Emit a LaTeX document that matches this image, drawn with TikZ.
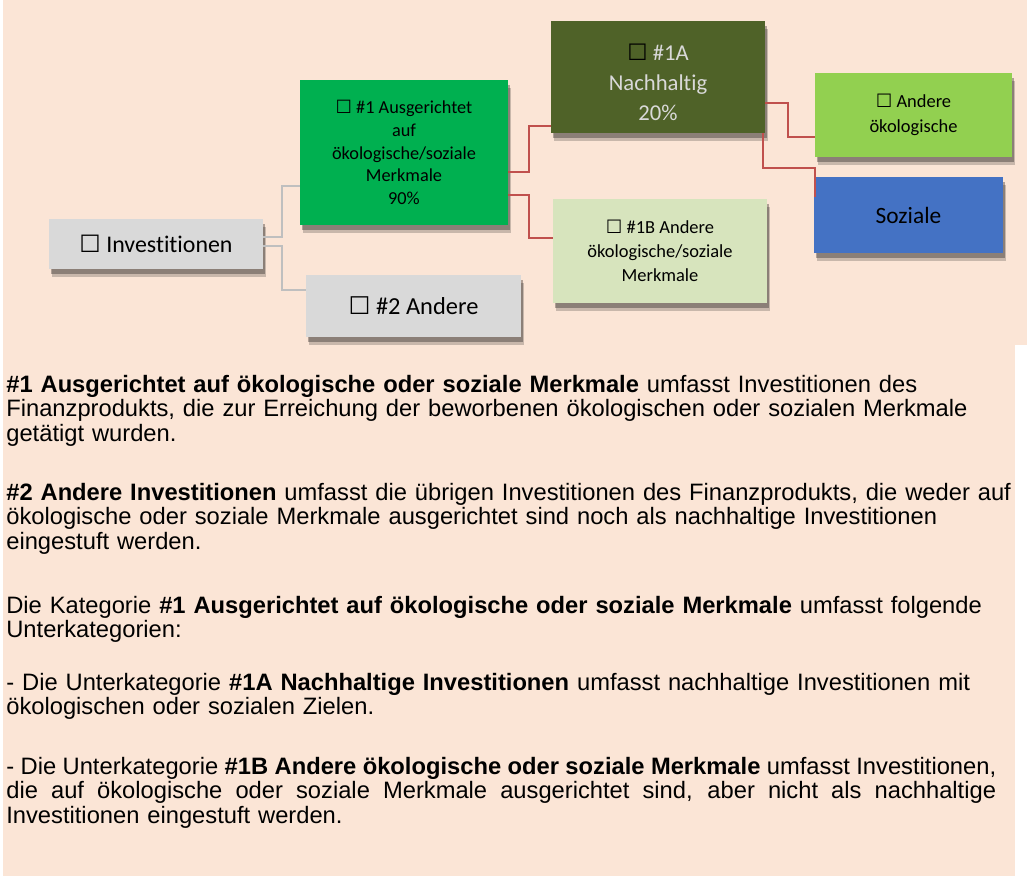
\documentclass[tikz,border=0pt]{standalone}
\usepackage{fontspec}
\setmainfont{Liberation Sans}
\newfontfamily\boxfont[Ligatures=NoCommon]{Carlito}
\newfontfamily\glyphfont{DejaVu Sans}
\usetikzlibrary{calc,shadows}

\definecolor{peach}{HTML}{FBE5D6}
\definecolor{boxgrey}{HTML}{D9D9D9}
\definecolor{kgreen}{HTML}{00B050}
\definecolor{darkolive}{HTML}{4F6228}
\definecolor{lime}{HTML}{92D050}
\definecolor{pale}{HTML}{D7E4BD}
\definecolor{sblue}{HTML}{4472C4}
\definecolor{linegrey}{HTML}{BFBFBF}
\definecolor{linered}{HTML}{C0504D}

\newcommand{\cb}{{\glyphfont ☐}}
\newcommand{\fullline}[1]{\makebox[19.8cm][s]{\spaceskip=0pt\xspaceskip=0pt #1}}

\begin{document}
\begin{tikzpicture}[x=0.02cm,y=-0.02cm,
  cat/.style={inner sep=0pt,align=center,
    drop shadow={shadow xshift=0.06cm,shadow yshift=-0.16cm,opacity=0.2,fill=black},
    drop shadow={shadow xshift=0.04cm,shadow yshift=-0.1cm,opacity=0.3,fill=black}},
  link/.style={draw=linegrey,line width=1pt},
  redlink/.style={draw=linered,line width=1.2pt},
  para/.style={anchor=base west,inner sep=0pt,align=left,text width=20.5cm,
    font={\fontsize{13.5pt}{14.1pt}\selectfont}}]
\useasboundingbox (0,0) rectangle (1031,876);
\fill[white] (0,0) rectangle (1031,876);
\fill[peach] (3,0) rectangle (1015,876);
\fill[peach] (3,0) rectangle (1027,345);

% boxes
\node[cat,fill=boxgrey,minimum width=4.28cm,minimum height=1cm,
  font={\boxfont\fontsize{13.6pt}{16pt}\selectfont}] (inv) at (156,244) {\cb{} Investitionen};
\node[cat,fill=kgreen,minimum width=4.16cm,minimum height=2.9cm,
  font={\boxfont\fontsize{10.4pt}{13pt}\selectfont}] (grn) at (404,152.5)
  {\cb{} \#1 Ausgerichtet\\auf\\ökologische/soziale\\Merkmale\\90\%};
\node[cat,fill=darkolive,text=boxgrey,minimum width=4.28cm,minimum height=2.24cm,
  font={\boxfont\fontsize{12.9pt}{17pt}\selectfont}] (na) at (658,77)
  {\rule{0pt}{15.6pt}\textcolor{black}{\cb} \#1A\\Nachhaltig\\20\%};
\node[cat,fill=lime,minimum width=3.94cm,minimum height=1.68cm,
  font={\boxfont\fontsize{10.5pt}{14.2pt}\selectfont}] (aoe) at (913.5,115)
  {\cb{} Andere\\ökologische};
\node[cat,fill=sblue,minimum width=3.78cm,minimum height=1.52cm,
  font={\boxfont\fontsize{13.3pt}{16pt}\selectfont}] (soz) at (908.5,215) {Soziale};
\node[cat,fill=pale,minimum width=4.28cm,minimum height=2.08cm,
  font={\boxfont\fontsize{10.5pt}{13.6pt}\selectfont}] (nb) at (660,251)
  {\cb{} \#1B Andere\\ökologische/soziale\\Merkmale};
\node[cat,fill=boxgrey,minimum width=4.3cm,minimum height=1.24cm,
  font={\boxfont\fontsize{13.9pt}{16pt}\selectfont}] (and2) at (413.5,306) {\cb{} \#2 Andere};

% connectors
\draw[link] ($(inv.east)+(0,-7)$) -- ++(19,0) |- ($(grn.west)+(0,33.5)$);
\draw[link] ($(inv.east)+(0,2)$) -- ++(19,0) |- ($(and2.west)+(0,-16)$);
\draw[redlink] ($(grn.east)+(0,19.5)$) -- ++(21,0) |- ($(na.west)+(0,49)$);
\draw[redlink] ($(grn.east)+(0,42.5)$) -- ++(21,0) |- ($(nb.west)+(0,-13)$);
\draw[redlink] ($(na.east)+(0,26)$) -- ++(23,0) |- ($(aoe.west)+(0,22)$);
\draw[redlink] ($(na.south east)+(-2,0)$) -- ++(0,35) -| ($(soz.north west)+(1,20)$);

% text
\node[para] (p1) at (6,392) {\textbf{\#1 Ausgerichtet auf ökologische oder soziale Merkmale} umfasst Investitionen des\\
  Finanzprodukts, die zur Erreichung der beworbenen ökologischen oder sozialen Merkmale\\
  getätigt wurden.};
\node[para] (p2) at (6,500) {\textbf{\#2 Andere Investitionen} umfasst die übrigen Investitionen des Finanzprodukts, die weder auf\\
  ökologische oder soziale Merkmale ausgerichtet sind noch als nachhaltige Investitionen\\
  eingestuft werden.};
\node[para] (p3) at (6,613) {Die Kategorie \textbf{\#1 Ausgerichtet auf ökologische oder soziale Merkmale} umfasst folgende\\
  Unterkategorien:};
\node[para] (p4) at (6,690) {- Die Unterkategorie \textbf{\#1A Nachhaltige Investitionen} umfasst nachhaltige Investitionen mit\\
  ökologischen oder sozialen Zielen.};
\node[para] (p5) at (6,774) {\fullline{- Die Unterkategorie \textbf{\#1B Andere ökologische oder soziale Merkmale} umfasst Investitionen,}\\
  \fullline{die auf ökologische oder soziale Merkmale ausgerichtet sind, aber nicht als nachhaltige}\\
  Investitionen eingestuft werden.};
\end{tikzpicture}
\end{document}
